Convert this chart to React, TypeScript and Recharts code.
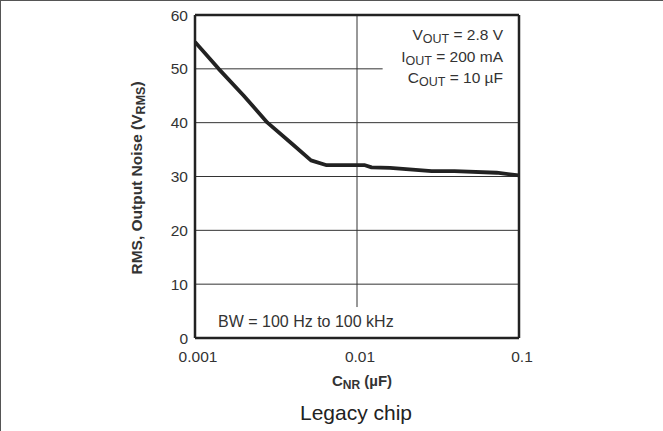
import { LineChart, Line, XAxis, YAxis, ReferenceLine } from 'recharts';

const capValues = [0.001, 0.0014, 0.002, 0.0028, 0.004, 0.0052, 0.0065, 0.0112, 0.0123, 0.016, 0.0289, 0.04, 0.0728, 0.1];
const noiseValues = [55, 50, 45, 40, 36, 33, 32.1, 32.1, 31.7, 31.6, 31.0, 31.0, 30.7, 30.2];
const xTicks = [0.001, 0.01, 0.1];
const yTicks = [0, 10, 20, 30, 40, 50, 60];
const fullGridY = [10, 20, 30, 40];

const data = capValues.map((c, i) => ({ c, noise: noiseValues[i] }));

const FONT = '"Liberation Sans", Arial, sans-serif';
const INK = '#222';

const XTick = (props: any) => (
  <text x={props.x} y={props.y} dx={3} dy="0.71em" textAnchor="middle" fontSize={15.5} fill="#333" fontFamily={FONT}>
    {String(props.payload.value)}
  </text>
);

const YTick = (props: any) => (
  <text x={props.x} y={props.y} dy="0.355em" textAnchor="end" fontSize={15.5} fill="#333" fontFamily={FONT}>
    {String(props.payload.value)}
  </text>
);

export default function App() {
  return (
    <div
      style={{
        position: 'fixed', left: 0, top: 0, width: 663, height: 431,
        background: '#fff', borderTop: '1px solid #555', borderLeft: '1px solid #555',
        boxSizing: 'border-box', fontFamily: FONT,
      }}
    >
      <div style={{ position: 'absolute', left: -1, top: -1 }}>
        <LineChart width={663} height={431} data={data} margin={{ top: 15, right: 144, bottom: 0, left: 0 }}>
          {fullGridY.map((y) => (
            <ReferenceLine key={y} y={y} stroke="#333" strokeWidth={1} />
          ))}
          {/* partial gridlines, cut short by the annotations */}
          <ReferenceLine segment={[{ x: 0.001, y: 50 }, { x: 0.0144, y: 50 }]} stroke="#333" strokeWidth={1} />
          <ReferenceLine segment={[{ x: 0.01, y: 5.75 }, { x: 0.01, y: 60 }]} stroke="#333" strokeWidth={1} />
          <ReferenceLine y={60} stroke={INK} strokeWidth={2.5} />
          <ReferenceLine x={0.1} stroke={INK} strokeWidth={2.5} />
          <XAxis
            dataKey="c" type="number" scale="log" domain={[0.001, 0.1]} ticks={xTicks}
            height={93} tickLine={false} tickSize={0} tickMargin={13}
            axisLine={{ stroke: INK, strokeWidth: 2.5 }}
            tick={<XTick />} allowDataOverflow
          />
          <YAxis
            type="number" domain={[0, 60]} ticks={yTicks} width={195}
            tickLine={false} tickSize={0} tickMargin={7}
            axisLine={{ stroke: INK, strokeWidth: 2.5 }}
            tick={<YTick />}
          />
          <Line dataKey="noise" stroke={INK} strokeWidth={3.8} dot={false} isAnimationActive={false} strokeLinejoin="round" />
        </LineChart>
      </div>
      <svg
        width={663} height={431}
        style={{ position: 'absolute', left: -1, top: -1, pointerEvents: 'none', fontFamily: FONT }}
      >
        <g fontSize={15.5} fill="#333" textAnchor="end">
          <text x={503} y={40}>
            <tspan>V</tspan><tspan dy={3} fontSize={12.5}>OUT</tspan><tspan dy={-3}> = 2.8 V</tspan>
          </text>
          <text x={503} y={62}>
            <tspan>I</tspan><tspan dy={3} fontSize={12.5}>OUT</tspan><tspan dy={-3}> = 200 mA</tspan>
          </text>
          <text x={503} y={83}>
            <tspan>C</tspan><tspan dy={3} fontSize={12.5}>OUT</tspan><tspan dy={-3}> = 10 µF</tspan>
          </text>
        </g>
        <text x={218} y={327} fontSize={16} fill="#333">BW = 100 Hz to 100 kHz</text>
        <text x={362} y={386} fontSize={15} fontWeight="bold" fill="#333" textAnchor="middle">
          <tspan>C</tspan><tspan dy={3} fontSize={12}>NR</tspan><tspan dy={-3}> (µF)</tspan>
        </text>
        <text
          x={142} y={178} fontSize={15.5} fontWeight="bold" fill="#333" textAnchor="middle"
          transform="rotate(-90 142 178)"
        >
          <tspan>RMS, Output Noise (V</tspan><tspan dy={3} fontSize={12.5}>RMS</tspan><tspan dy={-3}>)</tspan>
        </text>
        <text x={356} y={420} fontSize={21} fill="#222" textAnchor="middle">Legacy chip</text>
      </svg>
    </div>
  );
}
